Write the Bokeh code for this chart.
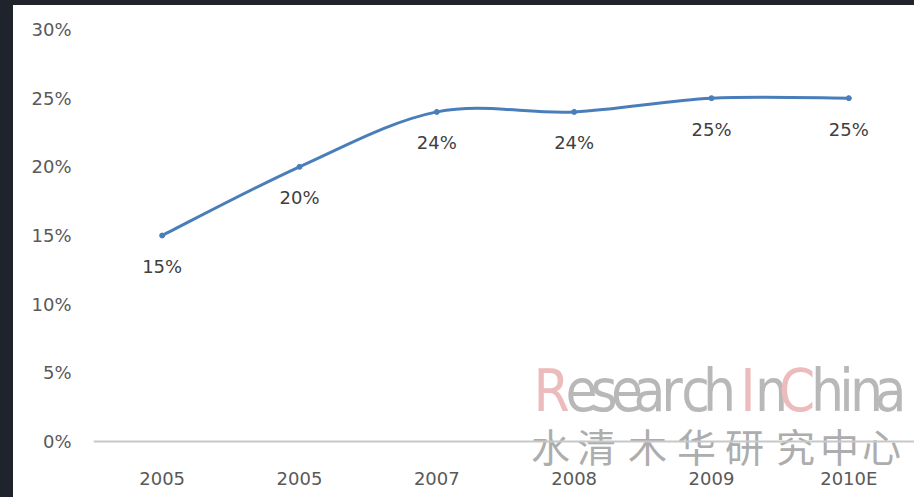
from bokeh.plotting import figure
from bokeh.models import FixedTicker, NumeralTickFormatter, ColumnDataSource, LabelSet, Spacer, LinearAxis
from bokeh.layouts import column, row
from bokeh.core.properties import value
from bokeh.embed import file_html
from bokeh.resources import INLINE

# ---- data ----
years = ["2005", "2005", "2007", "2008", "2009", "2010E"]
share = [0.15, 0.20, 0.24, 0.24, 0.25, 0.25]
y_ticks = [0.0, 0.05, 0.10, 0.15, 0.20, 0.25, 0.30]
wm_text = "ResearchInChina"
wm_cn = "水清木华研究中心"

# ---- layout constants (reference pixel geometry) ----
DARK = "#1f232b"
PAD_L, PAD_T = 13, 5
W, H = 914 - PAD_L, 497 - PAD_T
FRAME_LEFT_REF = 93.0
AXIS_REF_Y = 441.0
TOP_REF = 29.0
LEFT = int(FRAME_LEFT_REF - PAD_L)
TOP = int(TOP_REF - PAD_T)
PX_PER_CAT = 137.33
PX_SPAN = AXIS_REF_Y - TOP_REF          # pixels for 0 .. 30%
x_end = -0.5 + (W - LEFT) / PX_PER_CAT
y_start = -0.30 * (497 - AXIS_REF_Y) / PX_SPAN

def px_to_x(rx):
    return -0.5 + (rx - FRAME_LEFT_REF) / PX_PER_CAT

def py_to_y(ry):
    return 0.30 * (AXIS_REF_Y - ry) / PX_SPAN

xs = list(range(len(years)))

p = figure(width=W, height=H, x_range=(-0.5, x_end), y_range=(y_start, 0.30),
           output_backend="svg", toolbar_location=None, x_axis_location=None,
           min_border_left=LEFT, min_border_right=0, min_border_top=TOP,
           min_border_bottom=0)
p.outline_line_color = None
p.xgrid.visible = False
p.ygrid.visible = False
p.background_fill_color = "white"
p.border_fill_color = "white"

# y axis
p.yaxis.ticker = FixedTicker(ticks=y_ticks)
p.yaxis.formatter = NumeralTickFormatter(format="0%")
p.yaxis.axis_line_color = None
p.yaxis.major_tick_line_color = None
p.yaxis.minor_tick_line_color = None
p.yaxis.major_tick_out = 0
p.yaxis.major_tick_in = 0
p.yaxis.major_label_standoff = 22
p.yaxis.major_label_text_font = "DejaVu Sans"
p.yaxis.major_label_text_font_size = "18px"
p.yaxis.major_label_text_color = "#595959"

# x axis, drawn at the 0% level
xaxis = LinearAxis(fixed_location=0,
                   ticker=FixedTicker(ticks=xs),
                   major_label_overrides={i: y for i, y in zip(xs, years)},
                   axis_line_color="#c8c8c8", axis_line_width=2,
                   major_tick_line_color=None, minor_tick_line_color=None,
                   major_tick_out=0, major_tick_in=0, major_label_standoff=26,
                   major_label_text_font="DejaVu Sans",
                   major_label_text_font_size="18px",
                   major_label_text_color="#595959")
p.add_layout(xaxis, "below")

# watermark
wm_colors = ["#ecbcbc" if ch in "RIC" else "#b8b8b8" for ch in wm_text]
wm_centers_px = [551, 581, 603.5, 626.5, 649, 671.5, 695, 719, 747.5, 771,
                 796.5, 827, 846, 866, 890]
wm_src = ColumnDataSource(dict(x=[px_to_x(c) for c in wm_centers_px],
                               y=[py_to_y(410)] * len(wm_text),
                               t=list(wm_text), c=wm_colors))
p.add_layout(LabelSet(x="x", y="y", text="t", source=wm_src, text_color="c",
                      text_font=value("DejaVu Sans Condensed, Liberation Sans Narrow, Roboto Condensed, sans-serif"),
                      text_font_size="58px", text_align="center",
                      text_baseline="alphabetic", level="underlay"))
cn_centers_px = [550, 596, 647, 696, 744, 795, 839, 881]
cn_src = ColumnDataSource(dict(x=[px_to_x(c) for c in cn_centers_px],
                               y=[py_to_y(444)] * len(wm_cn), t=list(wm_cn)))
p.add_layout(LabelSet(x="x", y="y", text="t", source=cn_src, text_color="#adadad",
                      text_font=value("Noto Sans CJK SC"), text_font_size="39px",
                      text_align="center", text_baseline="middle", level="underlay"))

# smoothed line (Bezier segments through the data points)
n = len(share)
def pt(i):
    i = max(0, min(n - 1, i))
    return xs[i], share[i]
bz = dict(x0=[], y0=[], x1=[], y1=[], cx0=[], cy0=[], cx1=[], cy1=[])
for i in range(n - 1):
    xa, ya = pt(i - 1); xb, yb = pt(i); xc, yc = pt(i + 1); xd, yd = pt(i + 2)
    bz["x0"].append(xb); bz["y0"].append(yb)
    bz["x1"].append(xc); bz["y1"].append(yc)
    bz["cx0"].append(xb + (xc - xa) / 6); bz["cy0"].append(yb + (yc - ya) / 6)
    bz["cx1"].append(xc - (xd - xb) / 6); bz["cy1"].append(yc - (yd - yb) / 6)
p.bezier(x0="x0", y0="y0", x1="x1", y1="y1", cx0="cx0", cy0="cy0", cx1="cx1", cy1="cy1",
         source=ColumnDataSource(bz), line_color="#4a7ebb", line_width=3)
p.scatter(xs, share, size=5, color="#4a7ebb")

# data labels
p.text(x=xs, y=share, text=[f"{round(v * 100)}%" for v in share], y_offset=31,
       text_color="#404040", text_font=value("DejaVu Sans"), text_font_size="18px",
       text_align="center", text_baseline="middle")

top_bar = Spacer(width=914, height=PAD_T, styles={"background-color": DARK})
left_bar = Spacer(width=PAD_L, height=H, styles={"background-color": DARK})
layout = column(top_bar, row(left_bar, p, spacing=0), spacing=0)

open("out.html", "w").write(file_html(layout, INLINE))
